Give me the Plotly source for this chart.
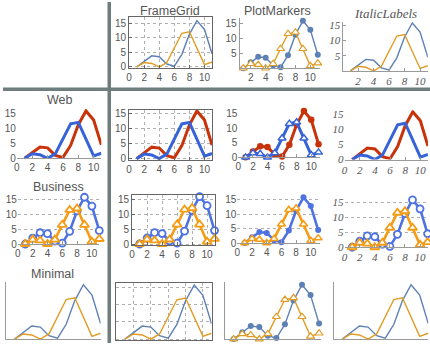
import plotly.graph_objects as go

W, H = 430, 349

# Two series sampled at x = 1..11
x_vals = list(range(1, 12))
series_a = [0.0, 2.0, 3.8, 3.5, 1.0, 0.3, 4.3, 11.2, 15.8, 12.8, 4.5]
series_b = [0.0, 1.5, 1.2, 0.0, 1.5, 6.5, 11.5, 12.0, 6.5, 0.8, 1.7]

row_labels = ["Web", "Business", "Minimal"]
col_labels = ["FrameGrid", "PlotMarkers", "ItalicLabels"]

x_ticks_full = [0, 2, 4, 6, 8, 10]
x_ticks_short = [2, 4, 6, 8, 10]
y_ticks_full = [0, 5, 10, 15]
y_ticks_short = [5, 10, 15]

# Theme styling
THEMES = {
    "default": dict(colors=("#5e81b5", "#e19c24"), width=1.4, open_markers=False, ygrid=False, yline=True),
    "web": dict(colors=("#c8330a", "#3663d8"), width=3.0, open_markers=False, ygrid=False, yline=False),
    "business": dict(colors=("#4f72e3", "#f59c14"), width=2.6, open_markers=True, ygrid=True, yline=False),
    "minimal": dict(colors=("#5e81b5", "#e19c24"), width=1.4, open_markers=False, ygrid=False, yline=True),
}

SANS = "Liberation Sans"
SERIF = "Liberation Serif"
TXT = "#555555"

# row, col, theme, variant, px at x=0, px per x unit, px at y=0, px per y unit, x range, y range, labels shown
cells = [
    (0, 1, "default", "frame", 127, 7.59, 66.5, 3.0, (0, 11), (-0.5, 17.2), "full"),
    (0, 2, "default", "markers", 234.5, 7.5, 67.8, 3.07, (0.5, 11.3), (0, 16.6), "short"),
    (0, 3, "default", "italic", 342, 7.8, 70.5, 3.1, (0.1, 11), (0, 16.3), "short"),
    (1, 0, "web", "axes", 14, 7.73, 160, 3.07, (0, 11), (0, 16.5), "full"),
    (1, 1, "web", "frame", 127, 7.59, 160.3, 3.09, (0, 11), (-0.55, 16.1), "full"),
    (1, 2, "web", "markers", 237, 7.34, 159, 3.0, (0, 11.2), (0, 16.5), "full"),
    (1, 3, "web", "italic", 344, 7.63, 161.3, 3.1, (0, 11), (0, 16.3), "full"),
    (2, 0, "business", "axes", 15, 7.45, 247.7, 3.03, (0, 11), (0, 16.5), "full"),
    (2, 1, "business", "frame", 130, 7.55, 247.7, 3.07, (0, 11), (-0.4, 16.4), "full"),
    (2, 2, "business", "markers", 236, 7.4, 246.7, 2.96, (0, 11.2), (0, 16.5), "full"),
    (2, 3, "business", "italic", 344, 7.6, 251, 3.07, (0, 11), (0, 16.5), "full"),
    (3, 0, "minimal", "axes", 3, 8.66, 345, 3.52, (0, 11), (0, 16.5), "none"),
    (3, 1, "minimal", "frame", 114, 8.73, 345, 3.5, (0, 11), (-0.3, 16.5), "none"),
    (3, 2, "minimal", "markers", 223.7, 8.6, 345, 3.52, (0, 11.2), (0, 16.5), "none"),
    (3, 3, "minimal", "italic", 333, 8.66, 345, 3.52, (0, 11), (0, 16.5), "none"),
]

fig = go.Figure()
layout_axes = {}

for i, (r, c, theme, variant, x0, xs, y0, ys, xr, yr, labels) in enumerate(cells, start=1):
    th = THEMES[theme]
    xa = "x" if i == 1 else f"x{i}"
    ya = "y" if i == 1 else f"y{i}"
    left = x0 + xr[0] * xs
    right = x0 + xr[1] * xs
    bottom = y0 - yr[0] * ys
    top = y0 - yr[1] * ys
    xdom = [left / W, right / W]
    ydom = [1 - bottom / H, 1 - top / H]

    italic = variant == "italic"
    frame = variant == "frame"
    tfont = dict(family=SERIF if italic else SANS, size=11 if italic else 10, color=TXT,
                 style="italic" if italic else "normal")
    xt = x_ticks_full if labels == "full" else x_ticks_short
    yt = y_ticks_full if labels == "full" else y_ticks_short
    show_lbl = labels != "none"

    xaxis = dict(domain=xdom, range=list(xr), anchor=ya, tickvals=xt if show_lbl else x_ticks_full,
                 showticklabels=show_lbl, tickfont=tfont, zeroline=False, showgrid=False,
                 showline=True, linecolor="#9a9a9a", linewidth=1,
                 ticks="inside" if show_lbl else "", ticklen=3, tickcolor="#9a9a9a", fixedrange=True)
    yaxis = dict(domain=ydom, range=list(yr), anchor=xa, tickvals=yt if show_lbl else y_ticks_full,
                 showticklabels=show_lbl, tickfont=tfont, zeroline=False, showgrid=False,
                 showline=th["yline"], linecolor="#9a9a9a", linewidth=1,
                 ticks="inside" if (show_lbl and th["yline"]) else "", ticklen=3, tickcolor="#9a9a9a",
                 fixedrange=True)
    if frame:
        for ax in (xaxis, yaxis):
            ax.update(showline=True, mirror=True, linecolor="#666666", showgrid=True,
                      gridcolor="#b0b0b0", griddash="dot", gridwidth=1,
                      ticks="inside" if show_lbl else "", tickcolor="#666666")
    elif th["ygrid"]:
        yaxis.update(showgrid=True, gridcolor="#b0b0b0", griddash="dot", gridwidth=1)

    layout_axes["xaxis" if i == 1 else f"xaxis{i}"] = xaxis
    layout_axes["yaxis" if i == 1 else f"yaxis{i}"] = yaxis

    col_a, col_b = th["colors"]
    lw = th["width"]
    if variant == "markers":
        ma = dict(symbol="circle", size=6 if theme != "web" else 6.5, color=col_a, line=dict(width=0))
        mb = dict(symbol="triangle-up", size=7, color="white", line=dict(color=col_b, width=1.2 if lw < 2 else 1.5))
        mode = "lines+markers"
    elif th["open_markers"]:
        ma = dict(symbol="circle", size=7, color="white", line=dict(color=col_a, width=1.8))
        mb = dict(symbol="triangle-up", size=8, color="white", line=dict(color=col_b, width=1.8))
        mode = "lines+markers"
    else:
        ma = mb = None
        mode = "lines"

    for ys_, col, mk in ((series_a, col_a, ma), (series_b, col_b, mb)):
        tr = dict(x=x_vals, y=ys_, mode=mode, xaxis=xa, yaxis=ya, showlegend=False,
                  line=dict(color=col, width=lw), cliponaxis=False, hoverinfo="skip")
        if mk is not None:
            tr["marker"] = mk
        fig.add_trace(go.Scatter(**tr))

# Column and row headings
annotations = []
title_pos_cols = [(168, 9), (276, 9), (385, 12)]
for lbl, (px, py) in zip(col_labels, title_pos_cols):
    it = lbl == "ItalicLabels"
    annotations.append(dict(text=lbl, x=px / W, y=1 - py / H, xref="paper", yref="paper",
                            xanchor="center", yanchor="middle", showarrow=False,
                            font=dict(family=SERIF if it else SANS, size=13 if it else 12.5, color=TXT,
                                      style="italic" if it else "normal", weight="normal")))
title_pos_rows = [(57, 100), (56, 189), (50, 278)]
for lbl, (px, py) in zip(row_labels, title_pos_rows):
    annotations.append(dict(text=lbl, x=px / W, y=1 - py / H, xref="paper", yref="paper",
                            xanchor="center", yanchor="middle", showarrow=False,
                            font=dict(family=SANS, size=12.5, color=TXT)))

# Grid separators between headings and panels
sep = "#6f7d7d"
shapes = [
    dict(type="line", xref="paper", yref="paper", x0=107 / W, x1=107 / W, y0=0, y1=1,
         line=dict(color=sep, width=3.5)),
    dict(type="line", xref="paper", yref="paper", x0=0, x1=1, y0=1 - 89.3 / H, y1=1 - 89.3 / H,
         line=dict(color=sep, width=3.5)),
]

fig.update_layout(width=W, height=H, margin=dict(l=0, r=0, t=0, b=0),
                  paper_bgcolor="white", plot_bgcolor="white",
                  annotations=annotations, shapes=shapes, **layout_axes)

fig.write_html("out.html", config={"displayModeBar": False})
